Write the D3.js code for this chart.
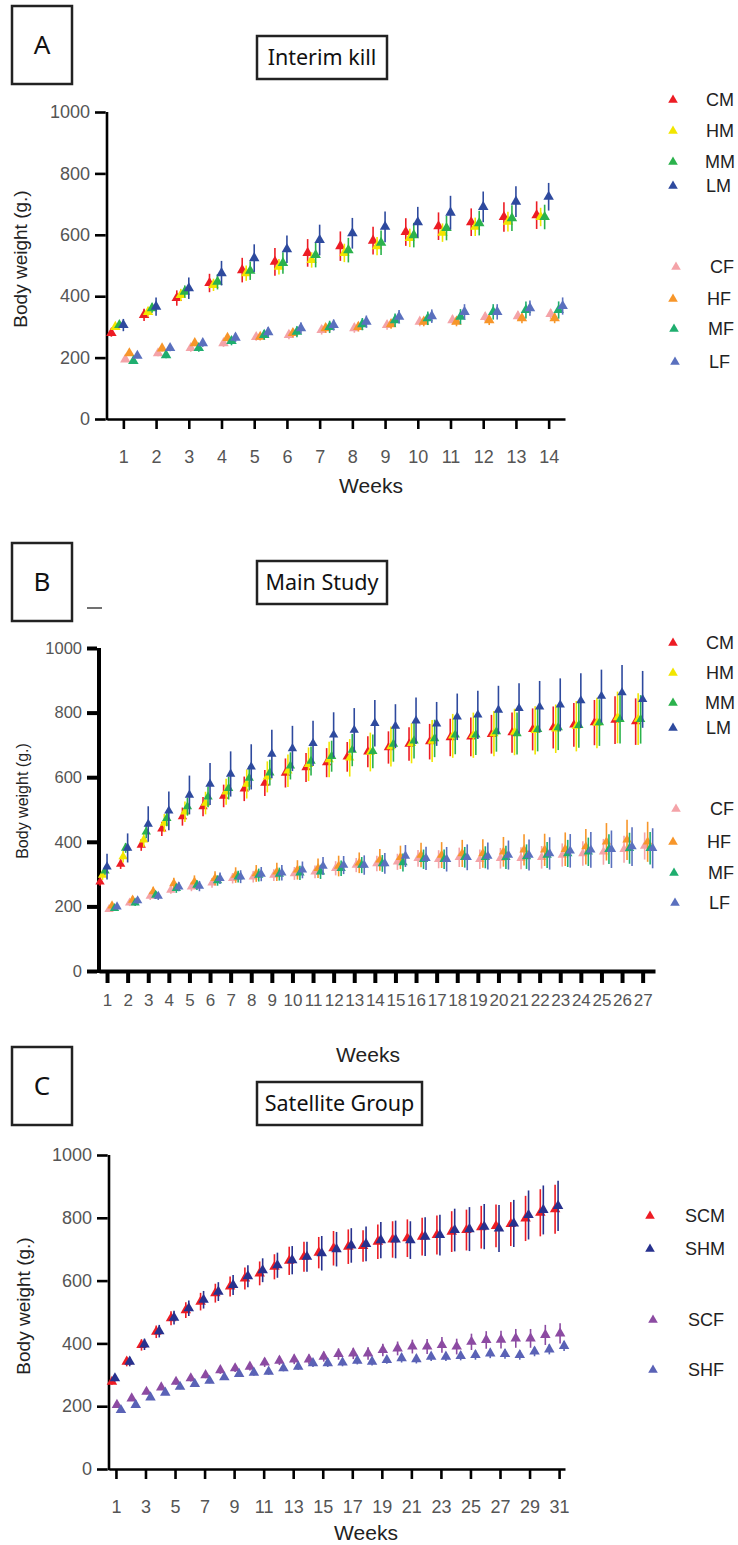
<!DOCTYPE html>
<html>
<head>
<meta charset="utf-8">
<script src="https://cdn.jsdelivr.net/npm/d3@7"></script>
<style>
  body { margin: 0; background: #fff; }
  svg text { font-family: "Liberation Sans", Arial, sans-serif; }
  .boxtext { font-family: "Noto Sans", "Open Sans", sans-serif !important; }
</style>
</head>
<body>
<svg id="chart" width="738" height="1545"></svg>
<script>
// ---- Panel A: Interim kill (weeks 1-14) ----
const weeksA = d3.range(1, 15);
const A_CM = [280, 339, 394, 443, 485, 512, 541, 563, 581, 609, 628, 641, 658, 664];
const A_HM = [300, 349, 404, 437, 475, 496, 518, 541, 563, 590, 607, 626, 643, 658];
const A_MM = [306, 361, 415, 447, 483, 508, 534, 550, 574, 599, 622, 638, 654, 658];
const A_LM = [306, 366, 426, 475, 524, 553, 583, 605, 626, 641, 672, 691, 708, 724];
const A_CF = [194, 214, 231, 247, 267, 274, 290, 296, 306, 317, 322, 332, 335, 342];
const A_HF = [214, 230, 247, 264, 268, 280, 296, 300, 309, 317, 317, 322, 328, 328];
const A_MF = [189, 208, 231, 254, 274, 284, 300, 309, 322, 328, 333, 349, 355, 355];
const A_LF = [206, 231, 247, 265, 283, 296, 306, 317, 333, 335, 349, 349, 361, 368];
const A_CM_sd = [12, 20, 25, 30, 40, 45, 45, 48, 45, 45, 45, 45, 48, 45];
const A_HM_sd = [10, 15, 20, 20, 25, 25, 25, 30, 30, 30, 30, 30, 32, 30];
const A_MM_sd = [10, 15, 20, 25, 30, 35, 40, 40, 40, 40, 40, 40, 42, 40];
const A_LM_sd = [20, 30, 35, 40, 45, 45, 50, 50, 50, 50, 55, 50, 50, 45];
const A_CF_sd = [8, 10, 12, 12, 12, 14, 15, 15, 15, 15, 15, 15, 15, 16];
const A_HF_sd = [8, 10, 10, 12, 12, 14, 15, 15, 15, 15, 15, 16, 16, 16];
const A_MF_sd = [8, 10, 12, 14, 16, 18, 20, 20, 22, 22, 25, 25, 28, 28];
const A_LF_sd = [8, 10, 12, 14, 16, 18, 18, 20, 22, 22, 25, 25, 25, 28];

// ---- Panel B: Main Study (weeks 1-27) ----
const weeksB = d3.range(1, 28);
const B_CM = [276, 331, 390, 440, 478, 509, 542, 564, 582, 613, 630, 645, 663, 679, 692, 703, 710, 723, 725, 733, 738, 748, 754, 762, 769, 777, 772];
const B_HM = [297, 354, 406, 458, 493, 520, 555, 579, 601, 620, 640, 655, 660, 678, 695, 705, 712, 728, 730, 735, 740, 745, 750, 758, 768, 785, 780];
const B_MM = [310, 381, 431, 473, 509, 539, 566, 597, 614, 635, 650, 665, 684, 680, 703, 713, 720, 731, 731, 741, 735, 748, 754, 761, 769, 779, 779];
const B_LM = [323, 381, 455, 496, 545, 579, 610, 632, 672, 689, 705, 731, 746, 767, 758, 775, 765, 787, 793, 808, 813, 818, 824, 837, 851, 862, 841];
const B_CF = [191, 211, 232, 251, 261, 273, 287, 292, 297, 302, 307, 318, 328, 333, 338, 349, 346, 352, 346, 349, 349, 352, 359, 364, 369, 377, 387];
const B_HF = [202, 220, 246, 271, 276, 287, 297, 302, 307, 313, 318, 325, 335, 344, 352, 359, 359, 364, 364, 369, 375, 375, 377, 385, 400, 406, 400];
const B_MF = [194, 211, 235, 256, 266, 280, 292, 297, 300, 304, 307, 318, 328, 333, 336, 346, 346, 352, 352, 352, 354, 359, 364, 369, 377, 380, 380];
const B_LF = [199, 218, 232, 261, 263, 287, 292, 300, 304, 313, 325, 328, 328, 333, 356, 349, 346, 352, 356, 359, 359, 364, 372, 375, 377, 385, 380];
const B_CM_sd = [12, 15, 18, 22, 28, 30, 35, 38, 40, 45, 45, 45, 46, 48, 50, 52, 55, 58, 60, 60, 62, 65, 65, 68, 70, 74, 72];
const B_HM_sd = [15, 18, 22, 28, 32, 35, 40, 45, 48, 50, 52, 55, 58, 60, 62, 62, 65, 68, 70, 70, 72, 75, 75, 78, 78, 80, 80];
const B_MM_sd = [12, 15, 20, 25, 28, 32, 35, 38, 40, 42, 45, 48, 50, 52, 55, 55, 58, 60, 62, 62, 65, 68, 70, 70, 72, 75, 75];
const B_LM_sd = [40, 45, 55, 60, 60, 65, 70, 70, 75, 70, 70, 70, 68, 72, 68, 72, 68, 72, 75, 75, 78, 80, 82, 85, 82, 85, 88];
const B_CF_sd = [8, 10, 12, 12, 14, 15, 16, 18, 18, 20, 20, 22, 22, 24, 25, 26, 28, 30, 30, 32, 34, 35, 36, 38, 40, 42, 42];
const B_HF_sd = [10, 12, 15, 18, 20, 22, 24, 26, 28, 30, 30, 32, 32, 34, 36, 38, 40, 42, 44, 46, 48, 50, 52, 55, 58, 62, 62];
const B_MF_sd = [8, 10, 12, 14, 15, 16, 18, 20, 20, 22, 22, 24, 25, 26, 28, 30, 30, 32, 34, 36, 38, 40, 42, 44, 46, 48, 50];
const B_LF_sd = [8, 10, 12, 14, 16, 18, 20, 22, 24, 26, 28, 28, 30, 32, 34, 36, 38, 40, 42, 45, 48, 50, 52, 55, 58, 60, 62];

// ---- Panel C: Satellite Group (weeks 1-31) ----
const weeksC = d3.range(1, 32);
const C_SCM = [278, 342, 395, 437, 480, 506, 533, 560, 581, 607, 623, 644, 663, 676, 689, 703, 708, 710, 724, 731, 735, 740, 745, 756, 761, 770, 774, 780, 798, 816, 827];
const C_SHM = [289, 342, 397, 439, 482, 512, 539, 565, 586, 614, 633, 649, 665, 676, 687, 700, 712, 717, 729, 731, 729, 740, 745, 761, 764, 772, 766, 782, 809, 825, 838];
const C_SCF = [204, 225, 246, 260, 278, 289, 299, 315, 321, 326, 339, 345, 349, 349, 358, 366, 368, 368, 379, 384, 390, 390, 395, 390, 405, 411, 412, 416, 416, 427, 432];
const C_SHF = [188, 204, 228, 243, 262, 271, 281, 292, 303, 307, 310, 321, 326, 337, 337, 339, 345, 342, 347, 353, 350, 358, 358, 360, 363, 368, 366, 363, 374, 381, 392];
const C_SCM_sd = [10, 15, 18, 20, 22, 25, 28, 30, 32, 35, 38, 40, 45, 48, 50, 55, 55, 50, 55, 58, 60, 60, 62, 65, 65, 68, 68, 70, 72, 75, 78];
const C_SHM_sd = [10, 15, 18, 20, 22, 25, 28, 30, 32, 35, 38, 40, 45, 48, 55, 55, 55, 55, 58, 60, 60, 62, 65, 68, 70, 72, 75, 75, 78, 78, 80];
const C_SCF_sd = [5, 6, 8, 8, 10, 10, 10, 12, 12, 12, 14, 14, 15, 16, 16, 18, 18, 20, 20, 22, 22, 24, 25, 25, 26, 28, 28, 30, 30, 32, 32];
const C_SHF_sd = [5, 5, 6, 6, 8, 8, 8, 8, 10, 10, 10, 10, 10, 12, 12, 12, 12, 12, 12, 14, 14, 14, 14, 14, 15, 15, 15, 15, 15, 16, 16];

const yTicks = [0, 200, 400, 600, 800, 1000];
const colors = {
  CM: "#ed1c24", HM: "#f2e600", MM: "#2bb24c", LM: "#2e4a9e",
  CF: "#f4a3a8", HF: "#f7962a", MF: "#1fae6f", LF: "#5a70be",
  SCM: "#ed1c24", SHM: "#27318e", SCF: "#8c4ba2", SHF: "#5a62b6"
};

const svg = d3.select("#chart");

function boxLabel(text, bx, by, bw, bh, fs) {
  svg.append("rect").attr("x", bx).attr("y", by).attr("width", bw).attr("height", bh)
    .attr("fill", "none").attr("stroke", "#222").attr("stroke-width", 2.5);
  svg.append("text").attr("class", "boxtext")
    .attr("x", bx + bw / 2).attr("y", by + bh / 2).attr("dy", "0.36em")
    .attr("text-anchor", "middle").attr("font-size", fs).attr("fill", "#111")
    .text(text);
}

function drawPanel(p) {
  boxLabel(p.letter, 12, p.letterY, 60, 78, 26);
  boxLabel(p.title, 257, p.titleY, p.titleW, 43, 21.5);

  const x = d3.scaleLinear().domain(p.xDomain).range([p.left, p.right]);
  const y = d3.scaleLinear().domain([0, 1000]).range([p.bottom, p.top]);

  const xAxis = svg.append("g").attr("transform", `translate(0,${p.bottom})`)
    .call(d3.axisBottom(x).tickValues(p.xTicks).tickFormat(d3.format("d"))
      .tickSize(p.tickLen).tickSizeOuter(0).tickPadding(p.xPad));
  const yAxis = svg.append("g").attr("transform", `translate(${p.left},0)`)
    .call(d3.axisLeft(y).tickValues(yTicks).tickFormat(d3.format("d"))
      .tickSize(12).tickSizeOuter(0).tickPadding(5));

  [xAxis, yAxis].forEach(ax => {
    ax.select(".domain").attr("stroke", "#000").attr("stroke-width", p.axisW);
    ax.selectAll(".tick line").attr("stroke", "#000").attr("stroke-width", p.axisW);
    ax.selectAll(".tick text").attr("fill", "#555")
      .style("font-family", "'Liberation Sans', Arial, sans-serif");
  });
  xAxis.selectAll(".tick text").attr("font-size", p.xFont);
  yAxis.selectAll(".tick text").attr("font-size", p.yFont);
  // extend the y domain line down to meet the x axis corner
  yAxis.select(".domain").attr("d", `M0,${p.bottom + p.axisW / 2}V${p.top}`);
  yAxis.selectAll(".tick line").attr("x1", -p.axisW / 2);

  svg.append("text").attr("x", p.weeksX).attr("y", p.weeksY)
    .attr("text-anchor", "middle").attr("font-size", 21).attr("fill", "#222")
    .text("Weeks");
  svg.append("text")
    .attr("transform", `translate(${p.yLabX},${p.yLabY}) rotate(-90)`)
    .attr("text-anchor", "middle").attr("dy", "0.36em")
    .attr("font-size", p.yLabFont).attr("fill", "#222")
    .text("Body weight (g.)");

  const sym = d3.symbol().type(d3.symbolTriangle).size(p.markSize);

  p.series.forEach(s => {
    const pts = p.weeks.map((w, i) => ({ w, v: s.values[i], sd: s.sd[i] }));
    const g = svg.append("g");
    g.selectAll("line").data(pts).join("line")
      .attr("x1", d => x(d.w) + s.off).attr("x2", d => x(d.w) + s.off)
      .attr("y1", d => y(d.v - d.sd)).attr("y2", d => y(d.v + d.sd))
      .attr("stroke", colors[s.name]).attr("stroke-width", 1.6);
    g.selectAll("path").data(pts).join("path")
      .attr("d", sym)
      .attr("transform", d => `translate(${x(d.w) + s.off},${y(d.v)})`)
      .attr("fill", colors[s.name]);
  });

  const legSym = d3.symbol().type(d3.symbolTriangle).size(40);
  p.legend.forEach(l => {
    svg.append("path").attr("d", legSym)
      .attr("transform", `translate(${l.mx},${l.y})`)
      .attr("fill", colors[l.name]);
    svg.append("text").attr("x", l.tx).attr("y", l.y).attr("dy", "0.36em")
      .attr("font-size", 18).attr("fill", "#222").text(l.name);
  });
}

drawPanel({
  letter: "A", letterY: 6, title: "Interim kill", titleY: 36, titleW: 130,
  left: 107, right: 565, top: 112, bottom: 419, xDomain: [0.5, 14.5],
  weeks: weeksA, xTicks: weeksA, tickLen: 10, xPad: 21, axisW: 2.6,
  xFont: 18, yFont: 18, weeksX: 371, weeksY: 493,
  yLabX: 20, yLabY: 259, yLabFont: 19, markSize: 48,
  series: [
    { name: "CM", values: A_CM, sd: A_CM_sd, off: -12 },
    { name: "HM", values: A_HM, sd: A_HM_sd, off: -8 },
    { name: "MM", values: A_MM, sd: A_MM_sd, off: -4 },
    { name: "LM", values: A_LM, sd: A_LM_sd, off: 0 },
    { name: "CF", values: A_CF, sd: A_CF_sd, off: 2 },
    { name: "HF", values: A_HF, sd: A_HF_sd, off: 6 },
    { name: "MF", values: A_MF, sd: A_MF_sd, off: 10 },
    { name: "LF", values: A_LF, sd: A_LF_sd, off: 14 }
  ],
  legend: [
    { name: "CM", mx: 673, tx: 706, y: 100 }, { name: "HM", mx: 673, tx: 706, y: 131 },
    { name: "MM", mx: 673, tx: 705, y: 162 }, { name: "LM", mx: 673, tx: 706, y: 186 },
    { name: "CF", mx: 676, tx: 710, y: 267 }, { name: "HF", mx: 673, tx: 707, y: 299 },
    { name: "MF", mx: 674, tx: 708, y: 329 }, { name: "LF", mx: 675, tx: 709, y: 362 }
  ]
});

drawPanel({
  letter: "B", letterY: 543, title: "Main Study", titleY: 561, titleW: 130,
  left: 99, right: 655, top: 648, bottom: 971, xDomain: [0.61, 27.6],
  weeks: weeksB, xTicks: weeksB, tickLen: 12, xPad: 11, axisW: 4,
  xFont: 17, yFont: 16.5, weeksX: 368, weeksY: 1062,
  yLabX: 22, yLabY: 801, yLabFont: 16, markSize: 38,
  series: [
    { name: "CM", values: B_CM, sd: B_CM_sd, off: -7 },
    { name: "HM", values: B_HM, sd: B_HM_sd, off: -4.5 },
    { name: "MM", values: B_MM, sd: B_MM_sd, off: -2 },
    { name: "LM", values: B_LM, sd: B_LM_sd, off: 0 },
    { name: "CF", values: B_CF, sd: B_CF_sd, off: 2 },
    { name: "HF", values: B_HF, sd: B_HF_sd, off: 5 },
    { name: "MF", values: B_MF, sd: B_MF_sd, off: 7.5 },
    { name: "LF", values: B_LF, sd: B_LF_sd, off: 10 }
  ],
  legend: [
    { name: "CM", mx: 673, tx: 706, y: 643 }, { name: "HM", mx: 673, tx: 706, y: 673 },
    { name: "MM", mx: 673, tx: 705, y: 703 }, { name: "LM", mx: 673, tx: 706, y: 728 },
    { name: "CF", mx: 676, tx: 710, y: 809 }, { name: "HF", mx: 673, tx: 707, y: 842 },
    { name: "MF", mx: 674, tx: 708, y: 873 }, { name: "LF", mx: 675, tx: 709, y: 903 }
  ]
});
// stray dash next to the B box
svg.append("line").attr("x1", 87).attr("x2", 102).attr("y1", 608).attr("y2", 608)
  .attr("stroke", "#111").attr("stroke-width", 1.2);

drawPanel({
  letter: "C", letterY: 1047, title: "Satellite Group", titleY: 1082, titleW: 165,
  left: 109, right: 565, top: 1155, bottom: 1469, xDomain: [0.53, 31.4],
  weeks: weeksC, xTicks: d3.range(1, 32, 2), tickLen: 10, xPad: 21, axisW: 2.6,
  xFont: 18, yFont: 18, weeksX: 366, weeksY: 1540,
  yLabX: 23, yLabY: 1306, yLabFont: 19, markSize: 48,
  series: [
    { name: "SCM", values: C_SCM, sd: C_SCM_sd, off: -4 },
    { name: "SHM", values: C_SHM, sd: C_SHM_sd, off: -1 },
    { name: "SCF", values: C_SCF, sd: C_SCF_sd, off: 1 },
    { name: "SHF", values: C_SHF, sd: C_SHF_sd, off: 5 }
  ],
  legend: [
    { name: "SCM", mx: 650, tx: 685, y: 1216 }, { name: "SHM", mx: 650, tx: 685, y: 1249 },
    { name: "SCF", mx: 653, tx: 688, y: 1320 }, { name: "SHF", mx: 653, tx: 688, y: 1370 }
  ]
});
</script>
</body>
</html>
